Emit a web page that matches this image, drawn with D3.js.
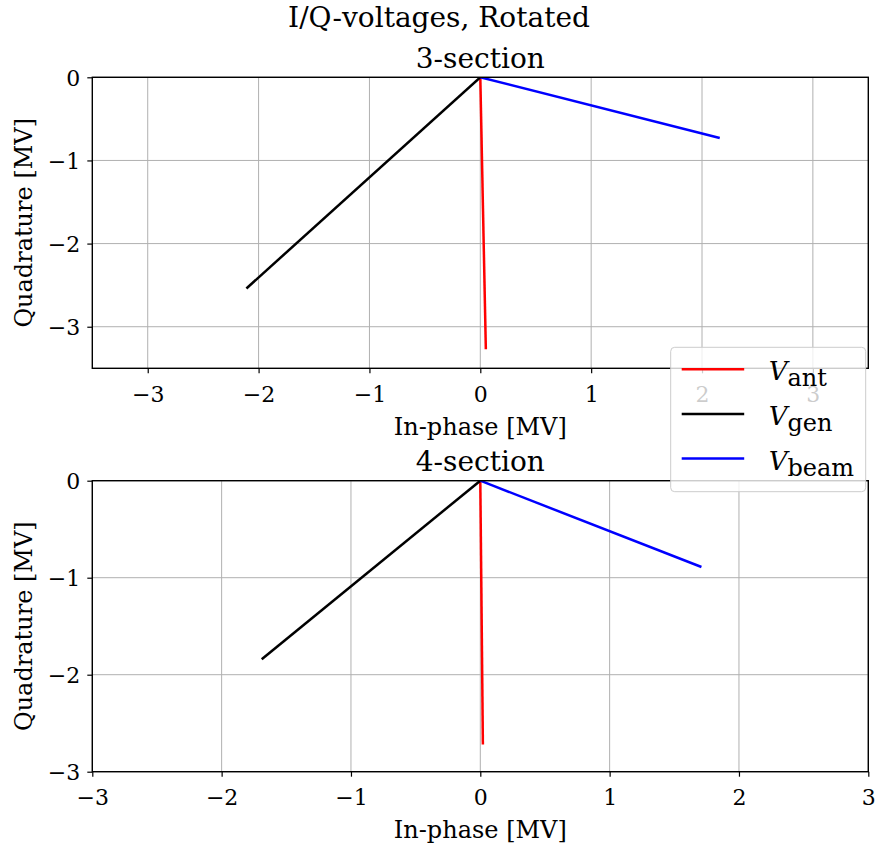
<!DOCTYPE html>
<html>
<head>
<meta charset="utf-8">
<script src="https://cdn.jsdelivr.net/npm/d3@7"></script>
<style>
  body { margin: 0; background: #fff; }
  text { font-family: "DejaVu Serif", serif; fill: #000; }
</style>
</head>
<body>
<div id="chart"></div>
<script>
// end points of the rotated I/Q vectors, each drawn from the origin [MV]
var panels = ["3-section", "4-section"];
var series = ["ant", "gen", "beam"];
var colors = ["#ff0000", "#000000", "#0000ff"];
var endI3 = [0.05, -2.11, 2.16];
var endQ3 = [-3.27, -2.54, -0.73];
var endI4 = [0.02, -1.69, 1.71];
var endQ4 = [-2.72, -1.84, -0.89];
var xDomains = [[-3.5, 3.5], [-3, 3]];
var yDomains = [[-3.5, 0], [-3, 0]];
var xTicks = [-3, -2, -1, 0, 1, 2, 3];
var yTicks = [0, -1, -2, -3];

var W = 878, H = 852;
var left = 92.3, right = 868.3;
var tops = [77.3, 480.7], bottoms = [368.3, 771.7];

var svg = d3.select("#chart").append("svg")
    .attr("width", W)
    .attr("height", H);

function fmt(d) { return d < 0 ? "\u2212" + Math.abs(d) : "" + d; }

svg.append("text")
    .attr("x", 439).attr("y", 27)
    .attr("text-anchor", "middle")
    .attr("font-size", 28)
    .text("I/Q-voltages, Rotated");

var ends = [[endI3, endQ3], [endI4, endQ4]];

panels.forEach(function(name, p) {
    var x = d3.scaleLinear().domain(xDomains[p]).range([left, right]);
    var y = d3.scaleLinear().domain(yDomains[p]).range([bottoms[p], tops[p]]);
    var g = svg.append("g");

    g.append("clipPath").attr("id", "clip" + p)
      .append("rect")
        .attr("x", left).attr("y", tops[p])
        .attr("width", right - left).attr("height", bottoms[p] - tops[p]);

    // grid
    g.selectAll(".gx").data(xTicks).enter().append("line")
        .attr("x1", x).attr("x2", x)
        .attr("y1", tops[p]).attr("y2", bottoms[p])
        .attr("stroke", "#b0b0b0").attr("stroke-width", 1);
    g.selectAll(".gy").data(yTicks).enter().append("line")
        .attr("y1", y).attr("y2", y)
        .attr("x1", left).attr("x2", right)
        .attr("stroke", "#b0b0b0").attr("stroke-width", 1);

    // vectors
    var I = ends[p][0], Q = ends[p][1];
    g.append("g").attr("clip-path", "url(#clip" + p + ")")
      .selectAll("line").data(series).enter().append("line")
        .attr("x1", x(0)).attr("y1", y(0))
        .attr("x2", function(d, i) { return x(I[i]); })
        .attr("y2", function(d, i) { return y(Q[i]); })
        .attr("stroke", function(d, i) { return colors[i]; })
        .attr("stroke-width", 2.5);

    // axes
    var xAxis = g.append("g")
        .attr("transform", "translate(0," + bottoms[p] + ")")
        .call(d3.axisBottom(x).tickValues(xTicks).tickFormat(fmt).tickSize(5).tickPadding(8));
    var yAxis = g.append("g")
        .attr("transform", "translate(" + left + ",0)")
        .call(d3.axisLeft(y).tickValues(yTicks).tickFormat(fmt).tickSize(5).tickPadding(7));
    [xAxis, yAxis].forEach(function(a) {
        a.select(".domain").remove();
        a.selectAll("line").attr("stroke", "#000").attr("stroke-width", 1.2);
        a.selectAll("text").attr("font-size", 22).attr("font-family", "DejaVu Serif");
    });
    xAxis.selectAll("text").attr("dy", null).attr("y", 33.4);
    yAxis.selectAll("text").attr("dy", "0.36em");

    g.append("rect")
        .attr("x", left).attr("y", tops[p])
        .attr("width", right - left).attr("height", bottoms[p] - tops[p])
        .attr("fill", "none").attr("stroke", "#000").attr("stroke-width", 1.4);

    g.append("text")
        .attr("x", (left + right) / 2).attr("y", tops[p] - 9.5)
        .attr("text-anchor", "middle").attr("font-size", 28)
        .text(name);
    g.append("text")
        .attr("x", (left + right) / 2).attr("y", bottoms[p] + 66.5)
        .attr("text-anchor", "middle").attr("font-size", 24)
        .text("In-phase [MV]");
    g.append("text")
        .attr("transform", "translate(32," + ((tops[p] + bottoms[p]) / 2) + ") rotate(-90)")
        .attr("text-anchor", "middle").attr("font-size", 24)
        .text("Quadrature [MV]");
});

// legend, drawn last so it sits over both panels
var lx = 670.7, ly = 347.3, lw = 195, lh = 144.4, step = 44.6;
var leg = svg.append("g");
leg.append("rect")
    .attr("x", lx).attr("y", ly).attr("width", lw).attr("height", lh)
    .attr("rx", 4).attr("ry", 4)
    .attr("fill", "rgba(255,255,255,0.8)")
    .attr("stroke", "#cccccc").attr("stroke-width", 1);
var items = leg.selectAll(".item").data(series).enter().append("g")
    .attr("transform", function(d, i) { return "translate(" + lx + "," + (ly + 22 + i * step) + ")"; });
items.append("line")
    .attr("x1", 11).attr("x2", 73.5)
    .attr("stroke", function(d, i) { return colors[i]; })
    .attr("stroke-width", 2.5);
var lt = items.append("text")
    .attr("x", 98).attr("y", 11).attr("font-size", 24);
lt.append("tspan").attr("font-style", "italic").attr("font-size", 26).text("V");
lt.append("tspan").attr("dy", 6).text(function(d) { return d; });
</script>
</body>
</html>
